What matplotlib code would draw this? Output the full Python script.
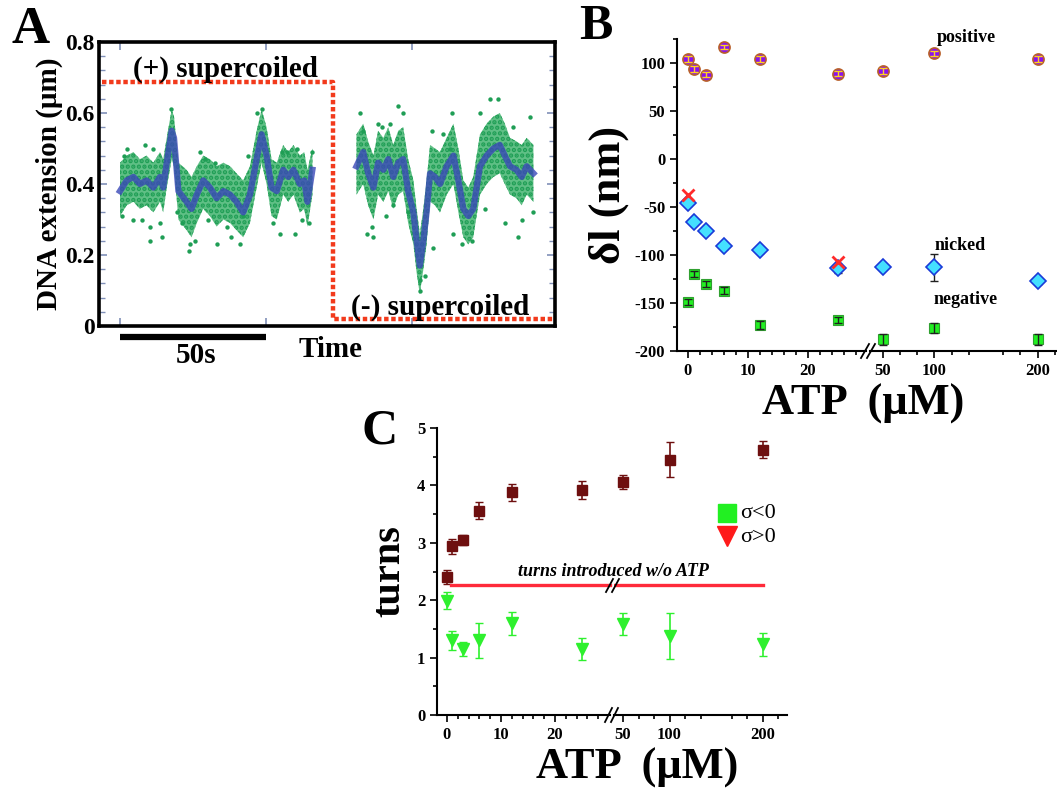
import matplotlib
matplotlib.use('Agg')
import matplotlib.pyplot as plt
from matplotlib.lines import Line2D

# ---- panel A: DNA extension trace ----
t_plus = [0.0, 2.3, 4.6, 6.8, 9.1, 11.4, 13.7, 14.8, 16.0, 17.7, 18.5, 20.0, 22.8, 24.5,
          26.3, 28.5, 30.8, 33.1, 35.4, 37.7, 39.9, 42.2, 44.5, 46.8, 48.5, 50.2, 51.9,
          53.7, 55.9, 57.6, 59.4, 61.6, 63.1, 64.2, 65.9]
ext_plus = [0.38, 0.41, 0.42, 0.40, 0.41, 0.39, 0.42, 0.39, 0.46, 0.55, 0.53, 0.38, 0.35, 0.33,
            0.37, 0.41, 0.39, 0.36, 0.38, 0.37, 0.35, 0.32, 0.37, 0.47, 0.54, 0.48, 0.39,
            0.38, 0.44, 0.42, 0.44, 0.40, 0.41, 0.35, 0.44]
hi_plus = [0.46, 0.48, 0.49, 0.47, 0.48, 0.46, 0.49, 0.47, 0.53, 0.61, 0.59, 0.46, 0.44, 0.42,
           0.45, 0.48, 0.47, 0.45, 0.46, 0.45, 0.43, 0.41, 0.45, 0.55, 0.61, 0.56, 0.47,
           0.46, 0.51, 0.49, 0.51, 0.48, 0.49, 0.44, 0.50]
lo_plus = [0.31, 0.34, 0.35, 0.33, 0.34, 0.32, 0.35, 0.32, 0.39, 0.47, 0.45, 0.30, 0.27, 0.25,
           0.29, 0.33, 0.31, 0.28, 0.30, 0.29, 0.27, 0.25, 0.29, 0.39, 0.46, 0.40, 0.31,
           0.30, 0.37, 0.35, 0.37, 0.32, 0.33, 0.28, 0.37]
out_t_plus = [0.6, 4.6, 7.4, 10.3, 10.3, 13.7, 14.3, 17.4, 19.4, 21.1, 23.7, 23.9, 27.4, 30.2,
              33.1, 32.5, 36.5, 41.1, 42.2, 46.8, 48.7, 54.8, 57.1, 60.0, 60.5, 64.8, 65.9,
              55.4, 16.0, 2.3, 11.4, 1.2, 8.5, 25.8, 29.0, 38.0, 44.0, 52.5, 62.5]
out_y_plus = [0.31, 0.30, 0.30, 0.28, 0.24, 0.29, 0.25, 0.61, 0.32, 0.29, 0.21, 0.23, 0.49, 0.30,
              0.23, 0.46, 0.28, 0.23, 0.31, 0.60, 0.61, 0.26, 0.49, 0.26, 0.50, 0.29, 0.49,
              0.49, 0.50, 0.50, 0.50, 0.48, 0.51, 0.24, 0.47, 0.25, 0.48, 0.29, 0.30]

t_minus = [81.0, 83.3, 85.0, 86.8, 88.4, 90.2, 91.9, 93.6, 95.3, 97.0, 98.7, 100.5, 101.6,
           102.7, 103.9, 105.0, 106.2, 107.9, 109.6, 111.9, 114.2, 115.9, 117.6, 119.3,
           121.0, 123.3, 125.6, 127.9, 130.1, 131.8, 133.6, 135.8, 137.6, 139.3, 141.6]
ext_minus = [0.45, 0.49, 0.43, 0.39, 0.46, 0.44, 0.47, 0.42, 0.46, 0.47, 0.38, 0.32, 0.24,
             0.17, 0.24, 0.32, 0.43, 0.42, 0.40, 0.45, 0.48, 0.41, 0.33, 0.31, 0.33, 0.45,
             0.48, 0.50, 0.51, 0.48, 0.45, 0.44, 0.42, 0.45, 0.43]
hi_minus = [0.54, 0.57, 0.52, 0.48, 0.55, 0.53, 0.56, 0.51, 0.55, 0.56, 0.47, 0.41, 0.33,
            0.26, 0.33, 0.41, 0.51, 0.50, 0.49, 0.53, 0.57, 0.50, 0.41, 0.39, 0.42, 0.54,
            0.57, 0.59, 0.60, 0.57, 0.53, 0.52, 0.51, 0.53, 0.51]
lo_minus = [0.37, 0.40, 0.34, 0.30, 0.37, 0.35, 0.38, 0.33, 0.37, 0.38, 0.29, 0.23, 0.15,
            0.09, 0.16, 0.23, 0.35, 0.34, 0.32, 0.37, 0.40, 0.32, 0.25, 0.23, 0.25, 0.37,
            0.40, 0.42, 0.43, 0.40, 0.37, 0.36, 0.34, 0.37, 0.35]
out_t_minus = [82.2, 83.3, 84.5, 86.2, 86.8, 88.5, 92.5, 95.3, 93.6, 97.0, 98.7, 102.7, 102.7,
               106.7, 107.3, 113.6, 114.2, 117.0, 120.4, 126.7, 129.6, 131.8, 136.4, 137.6,
               140.4, 141.6, 123.3, 113.0, 89.8, 91.0, 104.5, 110.5, 125.0, 134.5]
out_y_minus = [0.60, 0.55, 0.26, 0.28, 0.25, 0.57, 0.57, 0.62, 0.34, 0.60, 0.32, 0.10, 0.13,
               0.55, 0.22, 0.60, 0.26, 0.23, 0.24, 0.64, 0.64, 0.29, 0.25, 0.30, 0.59, 0.32,
               0.60, 0.50, 0.56, 0.31, 0.14, 0.54, 0.33, 0.56]

# ---- panel B: delta l vs ATP ----
atp = [0, 1, 3, 6, 12, 25, 50, 100, 200]
dl_pos = [104, 94, 88, 117, 104, 89, 92, 110, 104]
dl_pos_err = [3, 3, 3, 2, 3, 3, 3, 3, 3]
dl_nick = [-46, -66, -75, -91, -95, -114, -112, -113, -127]
dl_nick_err = [3, 3, 3, 3, 3, 5, 3, 14, 3]
dl_neg = [-149, -120, -130, -137, -173, -168, -188, -176, -188]
dl_neg_err = [3, 3, 3, 4, 4, 3, 6, 5, 6]
x_atp = [0, 25]
x_dl = [-38, -107]

# ---- panel C: turns vs ATP ----
turns_sq = [2.40, 2.94, 3.05, 3.56, 3.88, 3.92, 4.06, 4.45, 4.62]
turns_sq_err = [0.12, 0.13, 0.08, 0.15, 0.15, 0.15, 0.12, 0.31, 0.15]
turns_tri = [1.99, 1.30, 1.15, 1.30, 1.60, 1.15, 1.58, 1.38, 1.23]
turns_tri_err = [0.15, 0.17, 0.12, 0.31, 0.20, 0.20, 0.19, 0.40, 0.20]
turns_no_atp = 2.26

W, H = 1057, 789
plt.rcParams['font.family'] = ['Liberation Serif', 'DejaVu Serif']
plt.rcParams['font.weight'] = 'bold'
plt.rcParams['axes.labelweight'] = 'bold'
plt.rcParams['axes.unicode_minus'] = False
plt.rcParams['hatch.linewidth'] = 2.2
fig = plt.figure(figsize=(W / 100, H / 100), dpi=100)


def box(x0, y0, x1, y1):
    # pixel box (top-left origin) -> figure rect
    return [x0 / W, 1 - y1 / H, (x1 - x0) / W, (y1 - y0) / H]


def fx(x):
    return x / W


def fy(y):
    return 1 - y / H


def seg(xs, *cols, lo=None, hi=None):
    keep = [i for i, x in enumerate(xs) if (lo is None or x >= lo) and (hi is None or x <= hi)]
    return [[c[i] for i in keep] for c in (xs,) + cols]


# ================= A =================
green = '#1f9e55'
axA = fig.add_axes(box(99, 42, 555, 326))
for tt, yy, lo, hi, ot, oy in [(t_plus, ext_plus, lo_plus, hi_plus, out_t_plus, out_y_plus),
                               (t_minus, ext_minus, lo_minus, hi_minus, out_t_minus, out_y_minus)]:
    axA.fill_between(tt, lo, hi, facecolor='#5fbf85', edgecolor=green, hatch='...', lw=0)
    axA.scatter(ot, oy, s=10, color=green, lw=0)
    axA.plot(tt, yy, color='#3a48b8', lw=4.5, alpha=0.8)
axA.plot([-6.2, 72.9, 72.9, 149], [0.687, 0.687, 0.02, 0.02], color='#f23a1c', lw=3.2,
         ls=(0, (1, 0.6)), clip_on=False)
axA.set_xlim(-7.2, 149)
axA.set_ylim(0, 0.8)
axA.set_yticks([0, 0.2, 0.4, 0.6, 0.8])
axA.set_yticklabels(['0', '0.2', '0.4', '0.6', '0.8'])
axA.set_yticks([0.04 * k for k in range(21) if k % 5], minor=True)
axA.set_xticks([0, 50, 100])
axA.set_xticklabels([])
axA.tick_params(which='both', direction='in', right=True, top=True, color='#8090b8',
                labelsize=17, pad=3)
axA.tick_params(which='major', length=6, width=1.2)
axA.tick_params(which='minor', length=4, width=1)
for s in axA.spines.values():
    s.set_linewidth(2.6)
axA.set_ylabel('DNA extension (\u03bcm)', fontsize=21, labelpad=2)

fig.text(fx(225), fy(69), '(+) supercoiled', fontsize=21, ha='center', va='center')
fig.text(fx(440), fy(307), '(-) supercoiled', fontsize=21, ha='center', va='center')
fig.text(fx(331), fy(349), 'Time', fontsize=21, ha='center', va='center')
fig.text(fx(196), fy(356), '50s', fontsize=21, ha='center', va='center')
fig.add_artist(Line2D([fx(120), fx(266)], [fy(337), fy(337)], lw=4.5, color='k',
                      solid_capstyle='butt'))
fig.text(fx(31), fy(30), 'A', fontsize=38, ha='center', va='center')

# ================= B =================
axBL = fig.add_axes(box(677, 39, 866, 351))
axBR = fig.add_axes(box(870, 39, 1057, 351))
for ax, lo, hi in [(axBL, None, 30), (axBR, 40, None)]:
    x, y, e = seg(atp, dl_pos, dl_pos_err, lo=lo, hi=hi)
    ax.plot(x, y, 'o', ms=8, mfc='#8a12ee', mec='#b8602a', mew=1.2, zorder=3)
    ax.errorbar(x, y, yerr=e, fmt='none', ecolor='#ffd21f', elinewidth=1, capsize=3, zorder=4)
    x, y, e = seg(atp, dl_nick, dl_nick_err, lo=lo, hi=hi)
    ax.errorbar(x, y, yerr=e, fmt='none', ecolor='#202020', elinewidth=1, capsize=3, zorder=2)
    ax.plot(x, y, 'D', ms=8, mfc='#44e0ff', mec='#1a3ad8', mew=1.2, zorder=3)
    x, y, e = seg(atp, dl_neg, dl_neg_err, lo=lo, hi=hi)
    ax.plot(x, y, 's', ms=7.5, mfc='#22f022', mec='#30a030', mew=0.8, zorder=3)
    ax.errorbar(x, y, yerr=e, fmt='none', ecolor='#202020', elinewidth=1, capsize=3, zorder=4)
    x, y = seg(x_atp, x_dl, lo=lo, hi=hi)
    ax.plot(x, y, 'x', ms=9, mew=2, color='#ff2a2a', zorder=5)
    ax.set_ylim(-200, 125)
    for s in ['top', 'right']:
        ax.spines[s].set_visible(False)
    ax.spines['bottom'].set_linewidth(1.5)
    ax.spines['left'].set_linewidth(1.5)
    ax.tick_params(which='both', direction='out', labelsize=12, width=1.2)
    ax.tick_params(which='major', length=5)
    ax.tick_params(which='minor', length=3)
    ax.set_facecolor('none')
axBL.set_xlim(-1.83, 29.67)
axBL.set_xticks([0, 10, 20])
axBL.set_xticks([2 * k for k in range(15) if k % 5], minor=True)
axBL.set_yticks([100, 50, 0, -50, -100, -150, -200])
axBL.set_yticks([125, 75, 25, -25, -75, -125, -175], minor=True)
axBR.set_xlim(37.4, 218.9)
axBR.set_xticks([50, 100, 200])
axBR.set_xticks([50 + 50 / 3 * k for k in range(11) if k % 3], minor=True)
axBR.spines['left'].set_visible(False)
axBR.set_yticks([])
axBR.set_yticks([], minor=True)
axBL.set_ylabel('\u03b4l (nm)', fontsize=32, labelpad=4)
for (x0, y0, x1, y1) in [(861, 358, 869, 344), (867, 358, 875, 344)]:
    fig.add_artist(Line2D([fx(x0), fx(x1)], [fy(y0), fy(y1)], lw=1.3, color='k'))
fig.text(fx(966), fy(38), 'positive', fontsize=13, ha='center', va='center')
fig.text(fx(960), fy(246), 'nicked', fontsize=13, ha='center', va='center')
fig.text(fx(966), fy(300), 'negative', fontsize=13, ha='center', va='center')
fig.text(fx(863), fy(404), 'ATP  (\u03bcM)', fontsize=32, ha='center', va='center')
fig.text(fx(596), fy(27), 'B', fontsize=36, ha='center', va='center')

# ================= C =================
axCL = fig.add_axes(box(437, 428, 610, 715))
axCR = fig.add_axes(box(614, 428, 787, 715))
for ax, lo, hi in [(axCL, None, 30), (axCR, 40, None)]:
    x, y, e = seg(atp, turns_sq, turns_sq_err, lo=lo, hi=hi)
    ax.errorbar(x, y, yerr=e, fmt='s', ms=7, color='#6e0f0f', ecolor='#6e0f0f',
                elinewidth=1.2, capsize=3)
    x, y, e = seg(atp, turns_tri, turns_tri_err, lo=lo, hi=hi)
    ax.errorbar(x, y, yerr=e, fmt='v', ms=9, color='#2ef02e', ecolor='#2ef02e',
                elinewidth=1.2, capsize=3)
    ax.set_ylim(0, 5)
    for s in ['top', 'right']:
        ax.spines[s].set_visible(False)
    ax.spines['bottom'].set_linewidth(1.5)
    ax.spines['left'].set_linewidth(1.5)
    ax.tick_params(which='both', direction='out', labelsize=12, width=1.2)
    ax.tick_params(which='major', length=5)
    ax.tick_params(which='minor', length=3)
    ax.set_facecolor('none')
axCL.plot([0.8, 30.2], [turns_no_atp, turns_no_atp], color='#ff2a3a', lw=2.4, clip_on=False)
axCR.plot([40.3, 200], [turns_no_atp, turns_no_atp], color='#ff2a3a', lw=2.4)
axCL.set_xlim(-1.85, 30.2)
axCL.set_xticks([0, 10, 20])
axCL.set_xticks([2 * k for k in range(16) if k % 5], minor=True)
axCL.set_yticks([0, 1, 2, 3, 4, 5])
axCL.set_yticks([0.5, 1.5, 2.5, 3.5, 4.5], minor=True)
axCR.set_xlim(40.3, 226.3)
axCR.set_xticks([50, 100, 200])
axCR.set_xticks([50 + 50 / 3 * k for k in range(11) if k % 3], minor=True)
axCR.spines['left'].set_visible(False)
axCR.set_yticks([])
axCR.set_yticks([], minor=True)
axCL.set_ylabel('turns', fontsize=29, labelpad=6)
for (x0, y0, x1, y1) in [(605, 722, 612, 708), (611, 722, 618, 708),
                         (606, 592, 613, 579), (612, 592, 619, 579)]:
    fig.add_artist(Line2D([fx(x0), fx(x1)], [fy(y0), fy(y1)], lw=1.3, color='k'))
fig.text(fx(613), fy(572), 'turns introduced w/o ATP', fontsize=13, style='italic',
         ha='center', va='center')
fig.add_artist(Line2D([fx(727)], [fy(513)], marker='s', ms=13, color='#22f022', ls='none'))
fig.add_artist(Line2D([fx(727)], [fy(536)], marker='v', ms=15, color='#ff1a1a', ls='none'))
fig.text(fx(740), fy(513), '\u03c3<0', fontsize=16, weight='normal', ha='left', va='center')
fig.text(fx(740), fy(537), '\u03c3>0', fontsize=16, weight='normal', ha='left', va='center')
fig.text(fx(637), fy(768), 'ATP  (\u03bcM)', fontsize=32, ha='center', va='center')
fig.text(fx(380), fy(431), 'C', fontsize=36, ha='center', va='center')

fig.savefig('out.png', dpi=100)
